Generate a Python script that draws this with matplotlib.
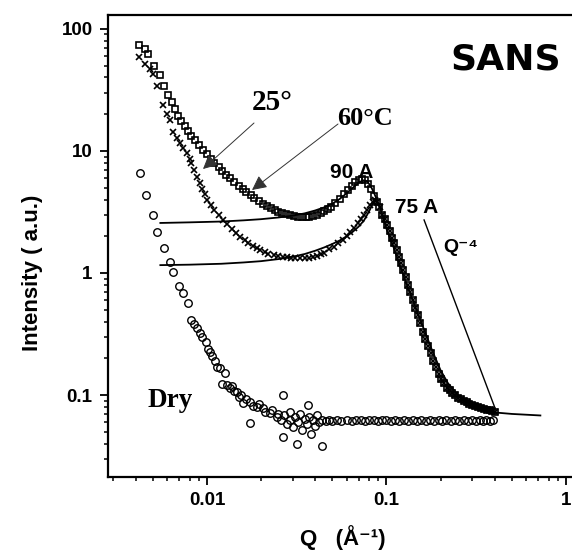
import matplotlib
matplotlib.use('Agg')
import matplotlib.pyplot as plt
from matplotlib.ticker import FixedLocator, FixedFormatter, NullFormatter, LogLocator

plt.rcParams['font.family'] = ['Liberation Sans', 'DejaVu Sans']

# --- 25 C (squares) ---
sq_q = [0.0042, 0.0045, 0.0047, 0.0051, 0.0055, 0.0058, 0.0061, 0.0064, 0.0066, 0.0069,
        0.0072, 0.0075, 0.0078, 0.0082, 0.0086, 0.0090, 0.0095, 0.0100, 0.0105, 0.0110,
        0.0116, 0.0122, 0.0128, 0.0135, 0.0142, 0.0150, 0.0158, 0.0166, 0.0175, 0.0184,
        0.0194, 0.0204, 0.0215, 0.0226, 0.0238, 0.0250, 0.0263, 0.0277, 0.0290, 0.0305,
        0.0320, 0.0337, 0.0354, 0.0372, 0.0390, 0.0410, 0.0430, 0.0450, 0.0470, 0.0490,
        0.0520, 0.0550, 0.0580, 0.0610, 0.0640, 0.0670, 0.0700, 0.0730, 0.0760, 0.0790,
        0.0820, 0.0850, 0.0880, 0.0910]
sq_i = [74, 68, 62, 50, 42, 34, 29, 25, 22, 19.5,
        17.5, 16, 14.5, 13.2, 12.2, 11.2, 10.2, 9.4, 8.6, 8.0,
        7.4, 6.9, 6.4, 6.0, 5.6, 5.2, 4.9, 4.6, 4.35, 4.1,
        3.9, 3.7, 3.55, 3.4, 3.28, 3.18, 3.1, 3.02, 2.96, 2.92,
        2.9, 2.88, 2.88, 2.9, 2.94, 3.0, 3.08, 3.2, 3.35, 3.5,
        3.75, 4.05, 4.4, 4.8, 5.2, 5.55, 5.8, 5.9, 5.8, 5.4,
        4.9, 4.3, 3.8, 3.5]

# --- 60 C (crosses) ---
x_q = [0.0042, 0.0045, 0.0048, 0.0050, 0.0053, 0.0057, 0.0060, 0.0062, 0.0065, 0.0068,
       0.0071, 0.0074, 0.0077, 0.0080, 0.0082, 0.0085, 0.0088, 0.0091, 0.0094, 0.0097,
       0.0100, 0.0105, 0.0110, 0.0117, 0.0123, 0.0130, 0.0138, 0.0145, 0.0153, 0.0162,
       0.0170, 0.0180, 0.0190, 0.0197, 0.0210, 0.0220, 0.0235, 0.0250, 0.0265, 0.0280,
       0.0295, 0.0310, 0.0330, 0.0350, 0.0370, 0.0390, 0.0410, 0.0430, 0.0450, 0.0480,
       0.0510, 0.0540, 0.0570, 0.0600, 0.0630, 0.0660, 0.0690, 0.0720, 0.0750, 0.0780,
       0.0810, 0.0840, 0.0865, 0.0890, 0.0920]
x_i = [59, 52, 47, 43, 34, 24, 20, 17.9, 14.3, 12.8,
       11.6, 10.5, 9.6, 8.6, 8.0, 7.0, 6.1, 5.5, 4.9, 4.4,
       4.0, 3.6, 3.3, 3.0, 2.72, 2.5, 2.3, 2.12, 1.97, 1.85,
       1.75, 1.66, 1.59, 1.54, 1.48, 1.44, 1.41, 1.38, 1.36, 1.34,
       1.33, 1.32, 1.32, 1.32, 1.33, 1.35, 1.38, 1.42, 1.47, 1.56,
       1.64, 1.75, 1.87, 2.0, 2.15, 2.35, 2.55, 2.75, 3.0, 3.3,
       3.6, 3.85, 3.97, 3.8, 3.45]

# shared high-Q tail of both swollen samples
tail_q = [0.095, 0.098, 0.101, 0.104, 0.107, 0.110, 0.114, 0.117, 0.121, 0.124,
          0.128, 0.132, 0.136, 0.140, 0.145, 0.149, 0.154, 0.159, 0.164, 0.170,
          0.176, 0.182, 0.188, 0.195, 0.202, 0.210, 0.218, 0.225, 0.233, 0.240,
          0.250, 0.260, 0.270, 0.280, 0.290, 0.300, 0.312, 0.325, 0.337, 0.350,
          0.362, 0.375, 0.387, 0.400]
tail_i = [3.0, 2.75, 2.45, 2.2, 1.95, 1.75, 1.55, 1.35, 1.2, 1.05,
          0.92, 0.8, 0.7, 0.6, 0.52, 0.45, 0.39, 0.33, 0.29, 0.25,
          0.22, 0.19, 0.17, 0.15, 0.135, 0.125, 0.115, 0.11, 0.104, 0.1,
          0.095, 0.092, 0.089, 0.087, 0.085, 0.083, 0.081, 0.08, 0.078, 0.077,
          0.076, 0.075, 0.074, 0.073]

# --- dry sample (circles) ---
dry_q = [0.00423, 0.0046, 0.0050, 0.0053, 0.0058, 0.0062, 0.0065, 0.0070, 0.0074, 0.0078,
         0.0081, 0.0085, 0.0088, 0.0091, 0.0094, 0.0099, 0.0101, 0.0104, 0.0107, 0.0111,
         0.0114, 0.0118, 0.0121, 0.0126, 0.0130, 0.0134, 0.0138, 0.0142, 0.0147, 0.0150,
         0.0155, 0.0159, 0.0165, 0.0174, 0.0174, 0.0180, 0.0190, 0.0195, 0.0205, 0.0210,
         0.0224, 0.0230, 0.0245, 0.0250, 0.0260, 0.0265, 0.0265, 0.0270, 0.0280, 0.0290,
         0.0290, 0.0300, 0.0310, 0.0317, 0.0320, 0.0330, 0.0340, 0.0350, 0.0365, 0.0360,
         0.0370, 0.0380, 0.0390, 0.0400, 0.0410, 0.0420, 0.0437, 0.0440, 0.0460, 0.0480,
         0.0500, 0.0530, 0.0560, 0.0600, 0.0640, 0.0680, 0.0720, 0.0760, 0.0800, 0.0850,
         0.0900, 0.0950, 0.1000, 0.1060, 0.1120, 0.1180, 0.1250, 0.1320, 0.1400, 0.1480,
         0.1560, 0.1650, 0.1750, 0.1850, 0.1950, 0.2050, 0.2150, 0.2300, 0.2400, 0.2550,
         0.2700, 0.2850, 0.3000, 0.3150, 0.3300, 0.3450, 0.3600, 0.3750, 0.3900]
dry_i = [6.6, 4.36, 2.98, 2.17, 1.6, 1.23, 1.02, 0.78, 0.686, 0.57,
         0.41, 0.38, 0.354, 0.32, 0.30, 0.27, 0.24, 0.225, 0.21, 0.19,
         0.17, 0.165, 0.123, 0.152, 0.12, 0.114, 0.118, 0.108, 0.106, 0.096,
         0.1, 0.086, 0.092, 0.088, 0.059, 0.082, 0.08, 0.085, 0.078, 0.072,
         0.071, 0.075, 0.066, 0.07, 0.062, 0.1, 0.045, 0.068, 0.058, 0.072,
         0.063, 0.055, 0.066, 0.04, 0.06, 0.07, 0.052, 0.064, 0.083, 0.058,
         0.066, 0.048, 0.062, 0.056, 0.068, 0.06, 0.038, 0.063, 0.061, 0.062,
         0.061, 0.062, 0.061, 0.062, 0.061, 0.063, 0.062, 0.061, 0.062, 0.062,
         0.061, 0.062, 0.062, 0.061, 0.062, 0.061, 0.062, 0.061, 0.062, 0.061,
         0.062, 0.061, 0.062, 0.061, 0.062, 0.061, 0.062, 0.061, 0.062, 0.061,
         0.062, 0.061, 0.062, 0.061, 0.062, 0.061, 0.062, 0.061, 0.062]

# --- model fits ---
fit25_q = [0.0055, 0.008, 0.012, 0.016, 0.020, 0.025, 0.030, 0.035, 0.040, 0.045,
           0.050, 0.055, 0.060, 0.065, 0.070, 0.074, 0.078, 0.082, 0.086, 0.090]
fit25_i = [2.57, 2.6, 2.64, 2.7, 2.76, 2.85, 2.95, 3.08, 3.25, 3.45,
           3.7, 4.05, 4.5, 5.0, 5.5, 5.75, 5.65, 5.1, 4.4, 3.7]
fit60_q = [0.0055, 0.008, 0.012, 0.016, 0.020, 0.025, 0.030, 0.035, 0.040, 0.045,
           0.050, 0.055, 0.060, 0.065, 0.070, 0.075, 0.080, 0.084, 0.0865, 0.090,
           0.095, 0.100, 0.110, 0.120, 0.130, 0.140, 0.150, 0.160, 0.180, 0.200,
           0.220, 0.250, 0.280, 0.320, 0.360, 0.400, 0.500, 0.600, 0.720]
fit60_i = [1.16, 1.17, 1.19, 1.22, 1.25, 1.3, 1.36, 1.43, 1.52, 1.62,
           1.73, 1.85, 2.0, 2.18, 2.4, 2.7, 3.2, 3.7, 3.9, 3.7,
           3.0, 2.3, 1.6, 1.1, 0.8, 0.6, 0.46, 0.36, 0.23, 0.16,
           0.125, 0.1, 0.088, 0.08, 0.075, 0.072, 0.07, 0.069, 0.068]
q4_q = [0.162, 0.40]
q4_i = [2.72, 0.08]

x_ticks = [0.01, 0.1, 1]
x_tick_labels = ['0.01', '0.1', '1']
y_ticks = [0.1, 1, 10, 100]
y_tick_labels = ['0.1', '1', '10', '100']


def px(x, y):
    # picture pixel -> axes fraction
    return ((x - 108) / 472, (477 - y) / 462)


fig = plt.figure(figsize=(5.72, 5.57), dpi=100)
ax = fig.add_axes([108 / 572, 80 / 557, 472 / 572, 462 / 557])
ax.set_xscale('log')
ax.set_yscale('log')
ax.set_xlim(0.00281, 1.197)
ax.set_ylim(0.0213, 130)

ax.plot(fit25_q, fit25_i, color='black', lw=1.3)
ax.plot(fit60_q, fit60_i, color='black', lw=1.3)
ax.plot(q4_q, q4_i, color='black', lw=1.0)

ax.plot(sq_q + tail_q, sq_i + tail_i, ls='none', marker='s', ms=5.0,
        mfc='none', mec='black', mew=1.2)
ax.plot(x_q + tail_q, x_i + tail_i, ls='none', marker='x', ms=5.0,
        color='black', mew=1.2)
ax.plot(dry_q, dry_i, ls='none', marker='o', ms=5.4,
        mfc='none', mec='black', mew=1.0)

# axes styling
for s in ['left', 'bottom', 'top']:
    ax.spines[s].set_linewidth(1.6)
ax.spines['right'].set_visible(False)
ax.xaxis.set_major_locator(FixedLocator(x_ticks))
ax.xaxis.set_major_formatter(FixedFormatter(x_tick_labels))
ax.yaxis.set_major_locator(FixedLocator(y_ticks))
ax.yaxis.set_major_formatter(FixedFormatter(y_tick_labels))
ax.xaxis.set_minor_locator(LogLocator(base=10, subs=range(2, 10), numticks=20))
ax.yaxis.set_minor_locator(LogLocator(base=10, subs=range(2, 10), numticks=20))
ax.xaxis.set_minor_formatter(NullFormatter())
ax.yaxis.set_minor_formatter(NullFormatter())
ax.tick_params(which='major', direction='out', length=6, width=1.3, pad=5,
               labelsize=13.5, top=False, right=False)
ax.tick_params(which='minor', direction='out', length=3.2, width=1.1,
               top=False, right=False)
for lab in ax.get_xticklabels() + ax.get_yticklabels():
    lab.set_fontweight('bold')

ax.set_ylabel('Intensity ( a.u.)', fontsize=16, fontweight='bold')
ax.yaxis.set_label_coords(-0.138, 0.4416)
ax.set_xlabel('Q   (Å⁻¹)', fontsize=16, fontweight='bold')
ax.xaxis.set_label_coords(0.498, -0.104)

# annotations
ax.text(*px(506, 59), 'SANS', transform=ax.transAxes, ha='center', va='center',
        fontsize=26, fontweight='bold', family='DejaVu Sans')
serif = 'Liberation Serif'
ax.text(*px(252, 110), '25°', transform=ax.transAxes, ha='left', va='baseline',
        fontsize=21, fontweight='bold', family=serif)
ax.text(*px(337, 125), '60°C', transform=ax.transAxes, ha='left', va='baseline',
        fontsize=19, fontweight='bold', family=serif)
ax.text(*px(147, 407), 'Dry', transform=ax.transAxes, ha='left', va='baseline',
        fontsize=19.5, fontweight='bold', family=serif)
ax.text(*px(330, 178), '90 A', transform=ax.transAxes, ha='left', va='baseline',
        fontsize=15, fontweight='bold')
ax.text(*px(395, 213), '75 A', transform=ax.transAxes, ha='left', va='baseline',
        fontsize=15, fontweight='bold')
ax.text(*px(443, 252), 'Q⁻⁴', transform=ax.transAxes, ha='left', va='baseline',
        fontsize=14, fontweight='bold')

arrow = dict(arrowstyle='-|>', lw=0.7, color='#333333', mutation_scale=22,
             shrinkA=0, shrinkB=0)
ax.annotate('', xy=px(203, 169), xytext=px(254, 123), xycoords='axes fraction',
            textcoords='axes fraction', arrowprops=arrow)
ax.annotate('', xy=px(252, 190), xytext=px(338, 124), xycoords='axes fraction',
            textcoords='axes fraction', arrowprops=arrow)

fig.savefig('out.png', dpi=100)
